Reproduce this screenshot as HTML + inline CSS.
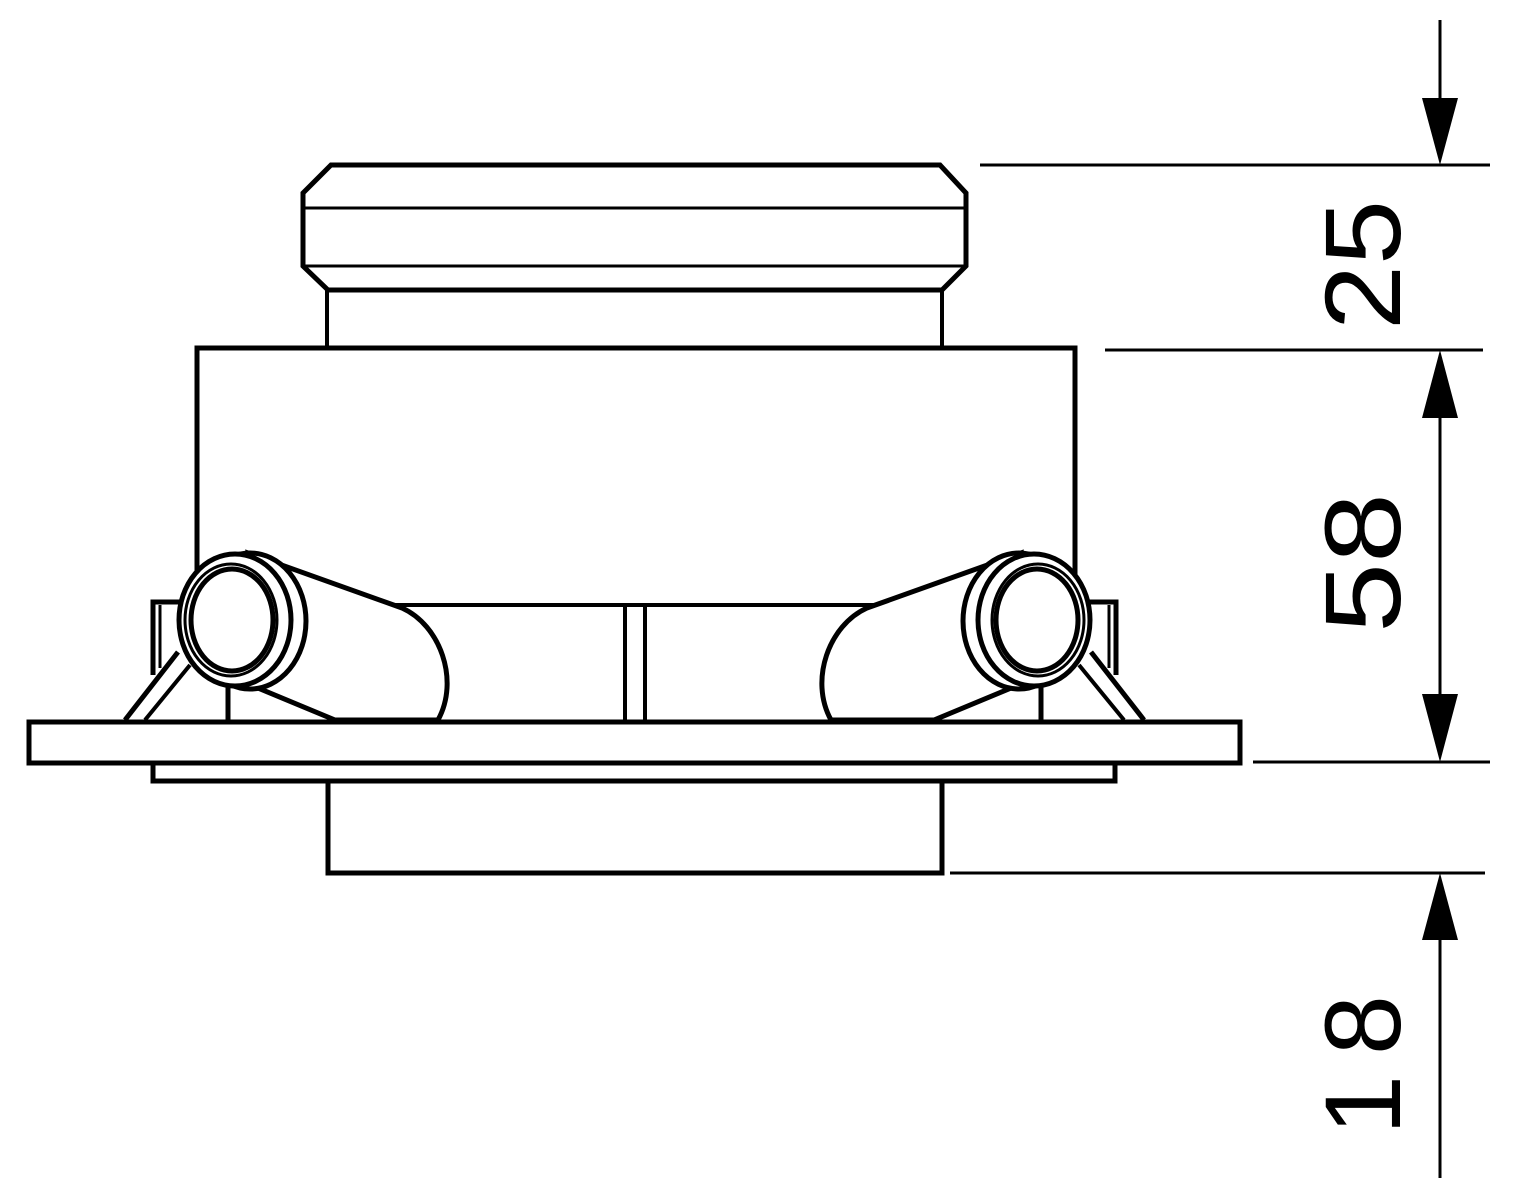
<!DOCTYPE html>
<html><head><meta charset="utf-8"><style>
html,body{margin:0;padding:0;background:#fff;}
svg{display:block;}
text{font-family:"Liberation Sans",sans-serif;font-size:108px;fill:#000;}
</style></head><body>
<svg width="1513" height="1200" viewBox="0 0 1513 1200" xmlns="http://www.w3.org/2000/svg">
<g fill="none" stroke="#000" stroke-width="5" stroke-linejoin="miter">
  <path d="M331,165 L940,165 L966,193 L966,266 L942,290 L328,290 L303,266 L303,193 Z"/>
  <line x1="305" y1="208" x2="964" y2="208" stroke-width="3"/>
  <line x1="305" y1="266" x2="964" y2="266" stroke-width="3"/>
  <line x1="327" y1="290" x2="327" y2="348" stroke-width="4"/>
  <line x1="942" y1="290" x2="942" y2="348" stroke-width="4"/>
  <path d="M197,600 L197,348 L1075,348 L1075,600"/>
  <line x1="390" y1="605" x2="880" y2="605" stroke-width="4"/>
  <line x1="625" y1="605" x2="625" y2="720" stroke-width="4"/>
  <line x1="645" y1="605" x2="645" y2="720" stroke-width="4"/>
  <rect x="29" y="722" width="1211" height="41"/>
  <rect x="153" y="763" width="962" height="18"/>
  <rect x="328" y="781" width="614" height="92"/>
</g>
<g id="clip" fill="#fff" stroke="#000" stroke-width="5">
  <path d="M153,675 L153,602 L180,602" fill="none"/>
  <line x1="160" y1="605" x2="160" y2="668" stroke-width="3"/>
  <line x1="125" y1="720" x2="178" y2="652"/>
  <line x1="145" y1="720" x2="190" y2="665" stroke-width="4"/>
  <line x1="228" y1="685" x2="228" y2="720"/>
  <path d="M248,553 L402,608 C440,625 460,680 438,720 L335,720 L258,688 Z"/>
  <ellipse cx="250" cy="621" rx="56" ry="68"/>
  <ellipse cx="235" cy="620" rx="56" ry="66"/>
  <ellipse cx="231" cy="620" rx="46" ry="56" stroke-width="3"/>
  <ellipse cx="232" cy="620" rx="41" ry="51"/>
</g>
<use href="#clip" transform="translate(1269,0) scale(-1,1)"/>
<g stroke="#000" stroke-width="3">
  <line x1="980" y1="165" x2="1490" y2="165"/>
  <line x1="1105" y1="350" x2="1483" y2="350"/>
  <line x1="1253" y1="762" x2="1490" y2="762"/>
  <line x1="950" y1="873" x2="1485" y2="873"/>
  <line x1="1440" y1="20" x2="1440" y2="140"/>
  <line x1="1440" y1="400" x2="1440" y2="712"/>
  <line x1="1440" y1="930" x2="1440" y2="1178"/>
</g>
<g fill="#000">
  <path d="M1440,165 L1422,98 L1458,98 Z"/>
  <path d="M1440,350 L1422,418 L1458,418 Z"/>
  <path d="M1440,762 L1422,694 L1458,694 Z"/>
  <path d="M1440,873 L1422,940 L1458,940 Z"/>
</g>
<text transform="translate(1400,265) rotate(-90)" text-anchor="middle" textLength="130" lengthAdjust="spacingAndGlyphs">25</text>
<text transform="translate(1400,563) rotate(-90)" text-anchor="middle" textLength="140" lengthAdjust="spacingAndGlyphs">58</text>
<text transform="translate(1400,1065) rotate(-90)" text-anchor="middle" textLength="140" lengthAdjust="spacing">18</text>
</svg>
</body></html>
